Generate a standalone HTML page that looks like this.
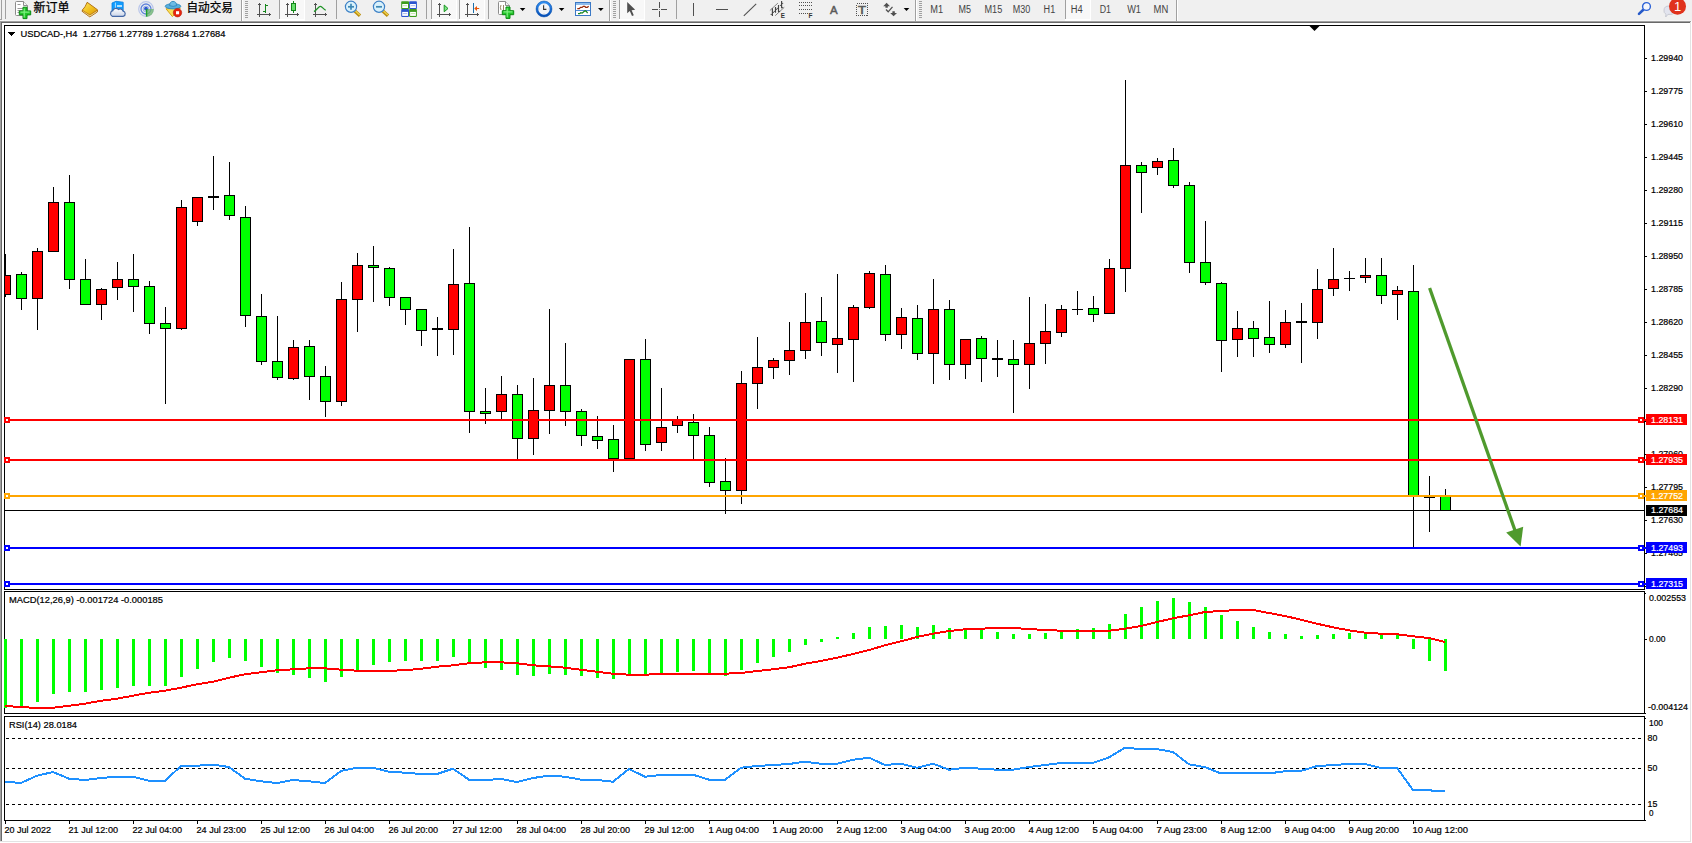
<!DOCTYPE html>
<html lang="zh-CN"><head><meta charset="utf-8"><title>USDCAD-,H4</title>
<style>html,body{margin:0;padding:0;background:#fff}body{width:1692px;height:843px;overflow:hidden;position:relative}svg{display:block;position:absolute;left:0;top:0}text{font-family:"Liberation Sans", "Noto Sans CJK SC", sans-serif;white-space:pre}</style></head><body>
<svg width="1692" height="843" viewBox="0 0 1692 843">
<rect x="0" y="0" width="1692" height="843" fill="#fff"/>
<g shape-rendering="crispEdges">
<rect x="0" y="0" width="1692" height="21" fill="#f0f0f0"/>
<rect x="0" y="20" width="1691" height="1" fill="#f6f6f6"/>
<rect x="0" y="21" width="1691" height="1" fill="#a0a0a0"/>
<rect x="0" y="22" width="1690" height="1" fill="#696969"/>
<rect x="0" y="21" width="1" height="821" fill="#a0a0a0"/>
<rect x="1" y="22" width="1" height="819" fill="#696969"/>
<rect x="1690" y="22" width="1" height="820" fill="#e3e3e3"/>
<rect x="0" y="841" width="1691" height="1" fill="#e3e3e3"/>
</g>
<g shape-rendering="crispEdges">
<rect x="1" y="0" width="1" height="20" fill="#a0a0a0"/><rect x="0" y="19" width="2" height="1" fill="#a0a0a0"/>
<rect x="5" y="0" width="1" height="19" fill="#a0a0a0"/>
<rect x="241" y="0" width="1" height="21" fill="#a0a0a0"/><rect x="242" y="0" width="1" height="21" fill="#fff"/>
<rect x="609" y="0" width="1" height="21" fill="#a0a0a0"/><rect x="610" y="0" width="1" height="21" fill="#fff"/>
<rect x="915" y="0" width="1" height="21" fill="#a0a0a0"/><rect x="916" y="0" width="1" height="21" fill="#fff"/>
<rect x="1176" y="0" width="1" height="21" fill="#a0a0a0"/><rect x="1177" y="0" width="1" height="21" fill="#fff"/>
<rect x="245" y="1" width="3" height="1" fill="#a0a0a0"/>
<rect x="245" y="3" width="3" height="1" fill="#a0a0a0"/>
<rect x="245" y="5" width="3" height="1" fill="#a0a0a0"/>
<rect x="245" y="7" width="3" height="1" fill="#a0a0a0"/>
<rect x="245" y="9" width="3" height="1" fill="#a0a0a0"/>
<rect x="245" y="11" width="3" height="1" fill="#a0a0a0"/>
<rect x="245" y="13" width="3" height="1" fill="#a0a0a0"/>
<rect x="245" y="15" width="3" height="1" fill="#a0a0a0"/>
<rect x="245" y="17" width="3" height="1" fill="#a0a0a0"/>
<rect x="613" y="1" width="3" height="1" fill="#a0a0a0"/>
<rect x="613" y="3" width="3" height="1" fill="#a0a0a0"/>
<rect x="613" y="5" width="3" height="1" fill="#a0a0a0"/>
<rect x="613" y="7" width="3" height="1" fill="#a0a0a0"/>
<rect x="613" y="9" width="3" height="1" fill="#a0a0a0"/>
<rect x="613" y="11" width="3" height="1" fill="#a0a0a0"/>
<rect x="613" y="13" width="3" height="1" fill="#a0a0a0"/>
<rect x="613" y="15" width="3" height="1" fill="#a0a0a0"/>
<rect x="613" y="17" width="3" height="1" fill="#a0a0a0"/>
<rect x="919" y="1" width="3" height="1" fill="#a0a0a0"/>
<rect x="919" y="3" width="3" height="1" fill="#a0a0a0"/>
<rect x="919" y="5" width="3" height="1" fill="#a0a0a0"/>
<rect x="919" y="7" width="3" height="1" fill="#a0a0a0"/>
<rect x="919" y="9" width="3" height="1" fill="#a0a0a0"/>
<rect x="919" y="11" width="3" height="1" fill="#a0a0a0"/>
<rect x="919" y="13" width="3" height="1" fill="#a0a0a0"/>
<rect x="919" y="15" width="3" height="1" fill="#a0a0a0"/>
<rect x="919" y="17" width="3" height="1" fill="#a0a0a0"/>
<rect x="279" y="0" width="1" height="19" fill="#a0a0a0"/>
<rect x="336" y="0" width="1" height="19" fill="#a0a0a0"/>
<rect x="426" y="0" width="1" height="19" fill="#a0a0a0"/>
<rect x="431" y="0" width="1" height="19" fill="#a0a0a0"/>
<rect x="459" y="0" width="1" height="19" fill="#a0a0a0"/>
<rect x="488" y="0" width="1" height="19" fill="#a0a0a0"/>
<rect x="619" y="0" width="1" height="19" fill="#a0a0a0"/>
<rect x="676" y="0" width="1" height="19" fill="#a0a0a0"/>
<rect x="1065" y="0" width="1" height="19" fill="#a0a0a0"/>
<rect x="280" y="0" width="24" height="19" fill="#f8f8f8"/><rect x="304" y="0" width="1" height="21" fill="#fff"/><rect x="279" y="19" width="26" height="2" fill="#fff"/>
<rect x="432" y="0" width="24" height="19" fill="#f8f8f8"/><rect x="456" y="0" width="1" height="21" fill="#fff"/><rect x="431" y="19" width="26" height="2" fill="#fff"/>
<rect x="460" y="0" width="24" height="19" fill="#f8f8f8"/><rect x="484" y="0" width="1" height="21" fill="#fff"/><rect x="459" y="19" width="26" height="2" fill="#fff"/>
<rect x="620" y="0" width="24" height="19" fill="#f8f8f8"/><rect x="644" y="0" width="1" height="21" fill="#fff"/><rect x="619" y="19" width="26" height="2" fill="#fff"/>
<rect x="1066" y="0" width="24" height="19" fill="#f8f8f8"/><rect x="1090" y="0" width="1" height="21" fill="#fff"/><rect x="1065" y="19" width="26" height="2" fill="#fff"/>
</g>
<path d="M15.5,2.5 q0,-1 1,-1 h7 l4,4 v9 q0,1 -1,1 h-10 q-1,0 -1,-1 z" fill="#fff" stroke="#8c8c8c" stroke-width="1"/>
<path d="M23.5,1.5 v4 h4" fill="#f4f4f4" stroke="#8c8c8c" stroke-width="1"/>
<path d="M17.5,4.5 h3 M17.5,8.5 h6 M17.5,10.5 h5 M17.5,12.5 h3" stroke="#9a9a9a" stroke-width="1" fill="none"/>
<path d="M23,7.2 h4 v3.7 h3.7 v4 h-3.7 v3.7 h-4 v-3.7 h-3.7 v-4 h3.7 z" fill="#22c62a" stroke="#0b8a12" stroke-width="1"/>
<path d="M24.2,8.4 v9.0 M20.5,12.1 h9.0" stroke="#7df07f" stroke-width="1.2" fill="none"/>
<text x="33.5" y="12.4" font-size="12" fill="#000" stroke="#000" stroke-width="0.25">新订单</text>
<defs><linearGradient id="gb" x1="0" y1="0" x2="1" y2="1"><stop offset="0" stop-color="#fbe25e"/><stop offset="0.55" stop-color="#f0bf1c"/><stop offset="1" stop-color="#d9960f"/></linearGradient><linearGradient id="gp" x1="0" y1="0" x2="0" y2="1"><stop offset="0" stop-color="#7de87f"/><stop offset="1" stop-color="#12a51c"/></linearGradient><linearGradient id="gc" x1="0" y1="0" x2="0" y2="1"><stop offset="0" stop-color="#ffffff"/><stop offset="1" stop-color="#c9d4e8"/></linearGradient><linearGradient id="gk" x1="0" y1="0" x2="0" y2="1"><stop offset="0" stop-color="#2f8df0"/><stop offset="1" stop-color="#0650b8"/></linearGradient></defs>
<path d="M87.2,2.3 L97.5,9.8 L97.3,12 L89.8,16.9 L82.1,11.3 L82.4,10 Q85.6,6.8 87.2,2.3 Z" fill="#c4830f" stroke="#a9690c" stroke-width="0.9" stroke-linejoin="round"/>
<path d="M83,10.9 L89.8,15.6 L97,10.9 L97,11.7 L89.8,16.4 L83,11.6 Z" fill="#f0e0a8"/>
<path d="M87.4,2.9 L96.9,9.8 L89.8,14.5 L82.8,9.9 Q85.8,6.8 87.4,2.9 Z" fill="url(#gb)"/>
<path d="M112,3 L116,1.3 L123.2,2.2 V11 H112 Z" fill="#119dff" stroke="#0a7fe0" stroke-width="0.8"/>
<path d="M115.4,2.6 V10" stroke="#bfe6ff" stroke-width="0.9"/>
<rect x="117" y="5.2" width="5" height="1.6" fill="#d8f0ff"/>
<path d="M112.2,16.3 a3,3 0 0 1 0.6,-5.6 a3.2,3.2 0 0 1 5.6,-1.2 a3,3 0 0 1 4.6,1.6 a2.7,2.7 0 0 1 0.4,5.2 z" fill="url(#gc)" stroke="#4468a6" stroke-width="1.2"/>
<circle cx="146" cy="9" r="7.3" fill="none" stroke="#b9c6ea" stroke-width="1.2"/>
<circle cx="146" cy="9" r="5" fill="none" stroke="#5f83dc" stroke-width="1.3"/>
<circle cx="146" cy="9" r="2.9" fill="none" stroke="#98b0e8" stroke-width="1"/>
<path d="M146.5,9 L153.8,9 A7.6,7.6 0 0 1 146.5,16.8 Z" fill="#6db56b" opacity="0.75"/>
<circle cx="146" cy="8.7" r="1.9" fill="#2a58d0"/>
<path d="M146.6,9 V16.6" stroke="#1ea12a" stroke-width="1.4"/>
<path d="M166,8.8 L180.4,8 L172.4,16.6 Z" fill="#f8e05a" stroke="#d8a418" stroke-width="1" stroke-linejoin="round"/>
<ellipse cx="173" cy="6.3" rx="7.8" ry="2.6" fill="#56aedd" stroke="#2f88bb" stroke-width="0.9"/>
<path d="M169.6,5.6 q0.2,-4.2 3.4,-4.2 q3.4,0 3.6,4.2 q-3.5,1.6 -7,0 z" fill="#6dbbe4" stroke="#2f88bb" stroke-width="0.9"/>
<circle cx="177.5" cy="12.7" r="4.2" fill="#e6250e" stroke="#b81c0a" stroke-width="0.6"/>
<rect x="176" y="11.2" width="3.1" height="3.1" fill="#fff"/>
<text x="186.5" y="12.4" font-size="12" fill="#000" stroke="#000" stroke-width="0.25" textLength="46.5" lengthAdjust="spacingAndGlyphs">自动交易</text>
<g shape-rendering="crispEdges" fill="#505050"><rect x="259" y="3" width="1" height="14"/><rect x="258" y="4" width="3" height="1"/><rect x="257" y="14" width="14" height="1"/><rect x="269" y="13" width="1" height="3"/></g>
<g shape-rendering="crispEdges" fill="#14861a"><rect x="265" y="4" width="1" height="9"/><rect x="266" y="5" width="2" height="1"/><rect x="263" y="11" width="2" height="1"/></g>
<g shape-rendering="crispEdges" fill="#505050"><rect x="287" y="3" width="1" height="14"/><rect x="286" y="4" width="3" height="1"/><rect x="285" y="14" width="14" height="1"/><rect x="297" y="13" width="1" height="3"/></g>
<g shape-rendering="crispEdges"><rect x="293" y="1" width="1" height="12" fill="#14861a"/><rect x="291" y="3" width="5" height="8" fill="#14861a"/><rect x="292" y="4" width="3" height="6" fill="#66e06b"/></g>
<g shape-rendering="crispEdges" fill="#505050"><rect x="315" y="3" width="1" height="14"/><rect x="314" y="4" width="3" height="1"/><rect x="313" y="14" width="14" height="1"/><rect x="325" y="13" width="1" height="3"/></g>
<path d="M314,11.6 C317,10 318.5,6.3 320.4,6.3 C322.3,6.3 323.5,9.6 325.8,10.3" stroke="#1e9426" stroke-width="1.2" fill="none"/>
<path d="M354.8,10.899999999999999 L360,15.7" stroke="#b98c10" stroke-width="3.4" stroke-linecap="butt"/>
<path d="M355.2,10.7 L359.8,15.0" stroke="#efd24a" stroke-width="1.4"/>
<circle cx="351" cy="6.8" r="5.6" fill="#d9f1fb" stroke="#3c80c6" stroke-width="1.2"/>
<path d="M348,6.8 h6" stroke="#3f88b4" stroke-width="1.7"/>
<path d="M351,3.8 v6" stroke="#3f88b4" stroke-width="1.7"/>
<path d="M382.8,10.899999999999999 L388,15.7" stroke="#b98c10" stroke-width="3.4" stroke-linecap="butt"/>
<path d="M383.2,10.7 L387.8,15.0" stroke="#efd24a" stroke-width="1.4"/>
<circle cx="379" cy="6.8" r="5.6" fill="#d9f1fb" stroke="#3c80c6" stroke-width="1.2"/>
<path d="M376,6.8 h6" stroke="#3f88b4" stroke-width="1.7"/>
<rect x="401.2" y="1.2" width="7.8" height="7.8" rx="0.8" fill="#3c9c1c"/>
<rect x="402.2" y="4.0" width="5.8" height="4" fill="#fff"/>
<rect x="403.0" y="5.2" width="4.2" height="1" fill="#bfe6a8"/>
<rect x="409.1" y="1.2" width="7.8" height="7.8" rx="0.8" fill="#2b55cf"/>
<rect x="410.1" y="4.0" width="5.8" height="4" fill="#fff"/>
<rect x="410.90000000000003" y="5.2" width="4.2" height="1" fill="#a9bdf0"/>
<rect x="401.2" y="9.1" width="7.8" height="7.8" rx="0.8" fill="#2b55cf"/>
<rect x="402.2" y="11.899999999999999" width="5.8" height="4" fill="#fff"/>
<rect x="403.0" y="13.1" width="4.2" height="1" fill="#a9bdf0"/>
<rect x="409.1" y="9.1" width="7.8" height="7.8" rx="0.8" fill="#3c9c1c"/>
<rect x="410.1" y="11.899999999999999" width="5.8" height="4" fill="#fff"/>
<rect x="410.90000000000003" y="13.1" width="4.2" height="1" fill="#bfe6a8"/>
<g shape-rendering="crispEdges" fill="#505050"><rect x="439" y="3" width="1" height="14"/><rect x="438" y="4" width="3" height="1"/><rect x="437" y="14" width="14" height="1"/><rect x="449" y="13" width="1" height="3"/></g>
<path d="M444.2,5 V11.8 L448,8.5 Z" fill="#7fe487" stroke="#18961f" stroke-width="1" stroke-linejoin="round"/>
<g shape-rendering="crispEdges" fill="#505050"><rect x="467" y="3" width="1" height="14"/><rect x="466" y="4" width="3" height="1"/><rect x="465" y="14" width="14" height="1"/><rect x="477" y="13" width="1" height="3"/></g>
<g shape-rendering="crispEdges"><rect x="473" y="3" width="1" height="10" fill="#1b6faa"/></g>
<path d="M474.2,8.5 L477,6 V7.9 H479.2 V9.1 H477 V11 Z" fill="#e8560a"/>
<path d="M498.5,2.5 q0,-1 1,-1 h6 l4,4 v8 q0,1 -1,1 h-9 q-1,0 -1,-1 z" fill="#fff" stroke="#8c8c8c" stroke-width="1"/>
<path d="M505.5,1.5 v4 h4" fill="#f4f4f4" stroke="#8c8c8c" stroke-width="1"/>
<path d="M501,5 q-1.2,2.5 0,5 M503.5,5 v6" stroke="#8a7a55" stroke-width="0.9" fill="none"/>
<path d="M506,6.999999999999999 h4 v3.7 h3.7 v4 h-3.7 v3.7 h-4 v-3.7 h-3.7 v-4 h3.7 z" fill="#22c62a" stroke="#0b8a12" stroke-width="1"/>
<path d="M507.2,8.2 v9.0 M503.5,11.899999999999999 h9.0" stroke="#7df07f" stroke-width="1.2" fill="none"/>
<path d="M519.8,8 h5.6 l-2.8,3.1 z" fill="#000"/>
<circle cx="544" cy="9" r="6.9" fill="#f3f5f8" stroke="url(#gk)" stroke-width="2.3"/>
<circle cx="544" cy="9" r="8" fill="none" stroke="#0a4fa8" stroke-width="0.5"/>
<path d="M543.6,5.2 V9.4 H546.4" stroke="#333" stroke-width="1.1" fill="none"/>
<path d="M544,3.6 v0.8 M544,13.6 v0.8 M538.6,9 h0.8 M548.6,9 h0.8" stroke="#8a94a8" stroke-width="0.8"/>
<path d="M558.8,8 h5.6 l-2.8,3.1 z" fill="#000"/>
<g shape-rendering="crispEdges"><rect x="575" y="2" width="16" height="14" fill="#3b79c6"/><rect x="576" y="3" width="14" height="12" fill="#fff"/><rect x="576" y="3" width="14" height="2" fill="#8fbcec"/><rect x="576" y="10" width="14" height="1" fill="#4f8cd6"/></g>
<path d="M577.3,8.6 h2 l1.2,-1.2 h1.6 l1.2,-1.1 h1.4 l1,1 h1.6 l1.4,-1.1" stroke="#962808" stroke-width="1.25" fill="none"/>
<path d="M578,13.7 h1.6 l1.2,-1 l1.3,0.4 l1.6,-1.4 l1.5,-0.9 l1,0.4 l1.4,2" stroke="#16851d" stroke-width="1.25" fill="none"/>
<path d="M598,8 h5.6 l-2.8,3.1 z" fill="#000"/>
<path d="M627.2,2 V13.2 L629.8,10.9 L632,16.1 L633.8,15.3 L631.6,10.2 L635.2,9.7 Z" fill="#505050"/>
<g shape-rendering="crispEdges" fill="#505050"><rect x="659" y="2" width="1" height="6"/><rect x="659" y="11" width="1" height="6"/><rect x="652" y="9" width="6" height="1"/><rect x="661" y="9" width="6" height="1"/><rect x="659" y="9" width="1" height="1" fill="#8a8a8a"/></g>
<g shape-rendering="crispEdges" fill="#505050"><rect x="693" y="3" width="1" height="13"/><rect x="716" y="9" width="12" height="1"/></g>
<path d="M743.8,15.9 L756.2,3.8" stroke="#505050" stroke-width="1.1"/>
<path d="M769.9,10.5 L777.9,3.1 M775.2,15.7 L784.3,7.3" stroke="#6a6a6a" stroke-width="0.8"/>
<path d="M772.4,8.3 V15.9 M775.5,7.1 V12.7 M778.5,5.1 V12.3 M781.6,1.1 V8.3" stroke="#444" stroke-width="1.15"/>
<path d="M770.6,14.4 h1.8 M772.4,12.4 h1.6 M773.8,11.4 h1.7 M775.5,9.4 h1.6 M776.8,8.4 h1.7 M778.5,11.4 h1.6 M779.9,5.4 h1.7 M781.6,3.4 h1.6 M781.6,7.6 h1.6" stroke="#444" stroke-width="0.9"/>
<text x="780.8" y="17.9" font-size="6.8" font-weight="bold" fill="#333" textLength="4.2" lengthAdjust="spacingAndGlyphs">E</text>
<path d="M799,2.5 H812 M799,5.5 H812 M799,9.5 H812 M799,13.5 H808" stroke="#505050" stroke-width="1" stroke-dasharray="1 1" shape-rendering="crispEdges"/>
<text x="808.6" y="17.8" font-size="6.5" font-weight="bold" fill="#333">F</text>
<text x="830" y="13.8" font-size="11.6" fill="#5a5a5a" stroke="#5a5a5a" stroke-width="0.5" textLength="7.6" lengthAdjust="spacingAndGlyphs">A</text>
<rect x="856.5" y="3.5" width="11" height="12" fill="none" stroke="#505050" stroke-width="1" stroke-dasharray="1 1" shape-rendering="crispEdges"/>
<text x="858" y="13.8" font-size="10" fill="#5a5a5a" stroke="#5a5a5a" stroke-width="0.55" textLength="8" lengthAdjust="spacingAndGlyphs">T</text>
<path d="M886.6,2.8 L890,6.2 H887.8 V7.8 H885.4 V6.2 H883.2 Z M893.6,16.3 L890.2,12.9 H892.4 V11.3 H894.8 V12.9 H897 Z" fill="#505050"/>
<path d="M886,9.5 L888.2,11.8 L892.5,6.8" stroke="#505050" stroke-width="1.3" fill="none"/>
<path d="M903.7,8 h5.6 l-2.8,3.1 z" fill="#000"/>
<text x="936.7" y="13" font-size="10" fill="#444" text-anchor="middle" textLength="12.8" lengthAdjust="spacingAndGlyphs">M1</text>
<text x="964.8" y="13" font-size="10" fill="#444" text-anchor="middle" textLength="12.5" lengthAdjust="spacingAndGlyphs">M5</text>
<text x="993.4" y="13" font-size="10" fill="#444" text-anchor="middle" textLength="17.8" lengthAdjust="spacingAndGlyphs">M15</text>
<text x="1021.4" y="13" font-size="10" fill="#444" text-anchor="middle" textLength="17.5" lengthAdjust="spacingAndGlyphs">M30</text>
<text x="1049.4" y="13" font-size="10" fill="#444" text-anchor="middle" textLength="11.6" lengthAdjust="spacingAndGlyphs">H1</text>
<text x="1076.8" y="13" font-size="10" fill="#444" text-anchor="middle" textLength="11.9" lengthAdjust="spacingAndGlyphs">H4</text>
<text x="1105.3" y="13" font-size="10" fill="#444" text-anchor="middle" textLength="11.3" lengthAdjust="spacingAndGlyphs">D1</text>
<text x="1134.1" y="13" font-size="10" fill="#444" text-anchor="middle" textLength="13.8" lengthAdjust="spacingAndGlyphs">W1</text>
<text x="1160.9" y="13" font-size="10" fill="#444" text-anchor="middle" textLength="14.7" lengthAdjust="spacingAndGlyphs">MN</text>
<path d="M1643.3,9.7 L1639,13.9" stroke="#2559c8" stroke-width="2.6" stroke-linecap="round"/>
<circle cx="1646.5" cy="6.5" r="3.9" fill="#f4f6fb" stroke="#2c62d6" stroke-width="1.4"/>
<path d="M1664,10 a5,4.2 0 0 1 5,-4 h1.5 a5,4.2 0 0 1 0,8.4 h-2.6 l-2.2,2.6 l0.2,-2.9 a4.6,4 0 0 1 -1.9,-4.1 z" fill="#e2e4ee" stroke="#c4c6cf" stroke-width="0.9"/>
<circle cx="1677.5" cy="6.3" r="8.5" fill="#e0321c"/>
<text x="1677.6" y="11.2" font-size="13" fill="#fff" text-anchor="middle">1</text>
<g shape-rendering="crispEdges">
<rect x="4" y="25" width="1641" height="1" fill="#000"/>
<rect x="4" y="25" width="1" height="565" fill="#000"/>
<rect x="1644" y="25" width="1" height="565" fill="#000"/>
<rect x="4" y="589" width="1641" height="1" fill="#000"/>
<rect x="4" y="591" width="1641" height="1" fill="#000"/>
<rect x="4" y="591" width="1" height="123" fill="#000"/>
<rect x="1644" y="591" width="1" height="123" fill="#000"/>
<rect x="4" y="713" width="1641" height="1" fill="#000"/>
<rect x="4" y="716" width="1641" height="1" fill="#000"/>
<rect x="4" y="716" width="1" height="105" fill="#000"/>
<rect x="1644" y="716" width="1" height="105" fill="#000"/>
<rect x="4" y="820" width="1642" height="1" fill="#000"/>
<polygon points="1309.5,26 1319.5,26 1314.5,31" fill="#000" shape-rendering="auto"/>
<polygon points="8,32 15,32 11.5,36" fill="#000"/>
<rect x="1645" y="58" width="2" height="1" fill="#000"/>
<rect x="1645" y="91" width="2" height="1" fill="#000"/>
<rect x="1645" y="124" width="2" height="1" fill="#000"/>
<rect x="1645" y="157" width="2" height="1" fill="#000"/>
<rect x="1645" y="190" width="2" height="1" fill="#000"/>
<rect x="1645" y="223" width="2" height="1" fill="#000"/>
<rect x="1645" y="256" width="2" height="1" fill="#000"/>
<rect x="1645" y="289" width="2" height="1" fill="#000"/>
<rect x="1645" y="322" width="2" height="1" fill="#000"/>
<rect x="1645" y="355" width="2" height="1" fill="#000"/>
<rect x="1645" y="388" width="2" height="1" fill="#000"/>
<rect x="1645" y="421" width="2" height="1" fill="#000"/>
<rect x="1645" y="454" width="2" height="1" fill="#000"/>
<rect x="1645" y="487" width="2" height="1" fill="#000"/>
<rect x="1645" y="520" width="2" height="1" fill="#000"/>
<rect x="1645" y="553" width="2" height="1" fill="#000"/>
<rect x="1645" y="586" width="2" height="1" fill="#000"/>
</g>
<text x="1651" y="61.3" font-size="9.6" fill="#000" stroke="#000" stroke-width="0.22" text-anchor="start" textLength="32" lengthAdjust="spacingAndGlyphs">1.29940</text>
<text x="1651" y="94.3" font-size="9.6" fill="#000" stroke="#000" stroke-width="0.22" text-anchor="start" textLength="32" lengthAdjust="spacingAndGlyphs">1.29775</text>
<text x="1651" y="127.3" font-size="9.6" fill="#000" stroke="#000" stroke-width="0.22" text-anchor="start" textLength="32" lengthAdjust="spacingAndGlyphs">1.29610</text>
<text x="1651" y="160.3" font-size="9.6" fill="#000" stroke="#000" stroke-width="0.22" text-anchor="start" textLength="32" lengthAdjust="spacingAndGlyphs">1.29445</text>
<text x="1651" y="193.3" font-size="9.6" fill="#000" stroke="#000" stroke-width="0.22" text-anchor="start" textLength="32" lengthAdjust="spacingAndGlyphs">1.29280</text>
<text x="1651" y="226.3" font-size="9.6" fill="#000" stroke="#000" stroke-width="0.22" text-anchor="start" textLength="32" lengthAdjust="spacingAndGlyphs">1.29115</text>
<text x="1651" y="259.3" font-size="9.6" fill="#000" stroke="#000" stroke-width="0.22" text-anchor="start" textLength="32" lengthAdjust="spacingAndGlyphs">1.28950</text>
<text x="1651" y="292.3" font-size="9.6" fill="#000" stroke="#000" stroke-width="0.22" text-anchor="start" textLength="32" lengthAdjust="spacingAndGlyphs">1.28785</text>
<text x="1651" y="325.3" font-size="9.6" fill="#000" stroke="#000" stroke-width="0.22" text-anchor="start" textLength="32" lengthAdjust="spacingAndGlyphs">1.28620</text>
<text x="1651" y="358.3" font-size="9.6" fill="#000" stroke="#000" stroke-width="0.22" text-anchor="start" textLength="32" lengthAdjust="spacingAndGlyphs">1.28455</text>
<text x="1651" y="391.3" font-size="9.6" fill="#000" stroke="#000" stroke-width="0.22" text-anchor="start" textLength="32" lengthAdjust="spacingAndGlyphs">1.28290</text>
<text x="1651" y="424.3" font-size="9.6" fill="#000" stroke="#000" stroke-width="0.22" text-anchor="start" textLength="32" lengthAdjust="spacingAndGlyphs">1.28125</text>
<text x="1651" y="457.3" font-size="9.6" fill="#000" stroke="#000" stroke-width="0.22" text-anchor="start" textLength="32" lengthAdjust="spacingAndGlyphs">1.27960</text>
<text x="1651" y="490.3" font-size="9.6" fill="#000" stroke="#000" stroke-width="0.22" text-anchor="start" textLength="32" lengthAdjust="spacingAndGlyphs">1.27795</text>
<text x="1651" y="523.3" font-size="9.6" fill="#000" stroke="#000" stroke-width="0.22" text-anchor="start" textLength="32" lengthAdjust="spacingAndGlyphs">1.27630</text>
<text x="1651" y="556.3" font-size="9.6" fill="#000" stroke="#000" stroke-width="0.22" text-anchor="start" textLength="32" lengthAdjust="spacingAndGlyphs">1.27465</text>
<text x="1651" y="589.3" font-size="9.6" fill="#000" stroke="#000" stroke-width="0.22" text-anchor="start" textLength="32" lengthAdjust="spacingAndGlyphs">1.27300</text>
<clipPath id="cc"><rect x="5" y="26" width="1639" height="563"/></clipPath>
<g shape-rendering="crispEdges" clip-path="url(#cc)">
<rect x="5" y="254" width="1" height="43" fill="#000"/>
<rect x="0" y="275" width="11" height="20" fill="#000"/>
<rect x="1" y="276" width="9" height="18" fill="#f00"/>
<rect x="21" y="272" width="1" height="38" fill="#000"/>
<rect x="16" y="274" width="11" height="25" fill="#000"/>
<rect x="17" y="275" width="9" height="23" fill="#0f0"/>
<rect x="37" y="248" width="1" height="82" fill="#000"/>
<rect x="32" y="251" width="11" height="48" fill="#000"/>
<rect x="33" y="252" width="9" height="46" fill="#f00"/>
<rect x="53" y="187" width="1" height="64" fill="#000"/>
<rect x="48" y="202" width="11" height="50" fill="#000"/>
<rect x="49" y="203" width="9" height="48" fill="#f00"/>
<rect x="69" y="175" width="1" height="114" fill="#000"/>
<rect x="64" y="202" width="11" height="78" fill="#000"/>
<rect x="65" y="203" width="9" height="76" fill="#0f0"/>
<rect x="85" y="259" width="1" height="45" fill="#000"/>
<rect x="80" y="279" width="11" height="26" fill="#000"/>
<rect x="81" y="280" width="9" height="24" fill="#0f0"/>
<rect x="101" y="288" width="1" height="32" fill="#000"/>
<rect x="96" y="289" width="11" height="16" fill="#000"/>
<rect x="97" y="290" width="9" height="14" fill="#f00"/>
<rect x="117" y="262" width="1" height="38" fill="#000"/>
<rect x="112" y="279" width="11" height="9" fill="#000"/>
<rect x="113" y="280" width="9" height="7" fill="#f00"/>
<rect x="133" y="254" width="1" height="58" fill="#000"/>
<rect x="128" y="279" width="11" height="8" fill="#000"/>
<rect x="129" y="280" width="9" height="6" fill="#0f0"/>
<rect x="149" y="281" width="1" height="53" fill="#000"/>
<rect x="144" y="286" width="11" height="38" fill="#000"/>
<rect x="145" y="287" width="9" height="36" fill="#0f0"/>
<rect x="165" y="307" width="1" height="97" fill="#000"/>
<rect x="160" y="323" width="11" height="6" fill="#000"/>
<rect x="161" y="324" width="9" height="4" fill="#0f0"/>
<rect x="181" y="200" width="1" height="130" fill="#000"/>
<rect x="176" y="207" width="11" height="122" fill="#000"/>
<rect x="177" y="208" width="9" height="120" fill="#f00"/>
<rect x="197" y="197" width="1" height="29" fill="#000"/>
<rect x="192" y="197" width="11" height="25" fill="#000"/>
<rect x="193" y="198" width="9" height="23" fill="#f00"/>
<rect x="213" y="156" width="1" height="54" fill="#000"/>
<rect x="208" y="196" width="11" height="2" fill="#000"/>
<rect x="229" y="162" width="1" height="58" fill="#000"/>
<rect x="224" y="195" width="11" height="21" fill="#000"/>
<rect x="225" y="196" width="9" height="19" fill="#0f0"/>
<rect x="245" y="206" width="1" height="121" fill="#000"/>
<rect x="240" y="217" width="11" height="99" fill="#000"/>
<rect x="241" y="218" width="9" height="97" fill="#0f0"/>
<rect x="261" y="294" width="1" height="71" fill="#000"/>
<rect x="256" y="316" width="11" height="46" fill="#000"/>
<rect x="257" y="317" width="9" height="44" fill="#0f0"/>
<rect x="277" y="316" width="1" height="64" fill="#000"/>
<rect x="272" y="361" width="11" height="17" fill="#000"/>
<rect x="273" y="362" width="9" height="15" fill="#0f0"/>
<rect x="293" y="340" width="1" height="40" fill="#000"/>
<rect x="288" y="347" width="11" height="32" fill="#000"/>
<rect x="289" y="348" width="9" height="30" fill="#f00"/>
<rect x="309" y="340" width="1" height="60" fill="#000"/>
<rect x="304" y="346" width="11" height="31" fill="#000"/>
<rect x="305" y="347" width="9" height="29" fill="#0f0"/>
<rect x="325" y="366" width="1" height="51" fill="#000"/>
<rect x="320" y="376" width="11" height="26" fill="#000"/>
<rect x="321" y="377" width="9" height="24" fill="#0f0"/>
<rect x="341" y="282" width="1" height="124" fill="#000"/>
<rect x="336" y="299" width="11" height="103" fill="#000"/>
<rect x="337" y="300" width="9" height="101" fill="#f00"/>
<rect x="357" y="253" width="1" height="79" fill="#000"/>
<rect x="352" y="265" width="11" height="35" fill="#000"/>
<rect x="353" y="266" width="9" height="33" fill="#f00"/>
<rect x="373" y="246" width="1" height="56" fill="#000"/>
<rect x="368" y="265" width="11" height="3" fill="#000"/>
<rect x="369" y="266" width="9" height="1" fill="#0f0"/>
<rect x="389" y="267" width="1" height="39" fill="#000"/>
<rect x="384" y="268" width="11" height="30" fill="#000"/>
<rect x="385" y="269" width="9" height="28" fill="#0f0"/>
<rect x="405" y="297" width="1" height="28" fill="#000"/>
<rect x="400" y="297" width="11" height="13" fill="#000"/>
<rect x="401" y="298" width="9" height="11" fill="#0f0"/>
<rect x="421" y="309" width="1" height="37" fill="#000"/>
<rect x="416" y="309" width="11" height="22" fill="#000"/>
<rect x="417" y="310" width="9" height="20" fill="#0f0"/>
<rect x="437" y="317" width="1" height="39" fill="#000"/>
<rect x="432" y="328" width="11" height="2" fill="#000"/>
<rect x="453" y="249" width="1" height="106" fill="#000"/>
<rect x="448" y="284" width="11" height="46" fill="#000"/>
<rect x="449" y="285" width="9" height="44" fill="#f00"/>
<rect x="469" y="227" width="1" height="206" fill="#000"/>
<rect x="464" y="283" width="11" height="129" fill="#000"/>
<rect x="465" y="284" width="9" height="127" fill="#0f0"/>
<rect x="485" y="388" width="1" height="36" fill="#000"/>
<rect x="480" y="411" width="11" height="3" fill="#000"/>
<rect x="481" y="412" width="9" height="1" fill="#0f0"/>
<rect x="501" y="376" width="1" height="43" fill="#000"/>
<rect x="496" y="394" width="11" height="18" fill="#000"/>
<rect x="497" y="395" width="9" height="16" fill="#f00"/>
<rect x="517" y="385" width="1" height="75" fill="#000"/>
<rect x="512" y="394" width="11" height="45" fill="#000"/>
<rect x="513" y="395" width="9" height="43" fill="#0f0"/>
<rect x="533" y="378" width="1" height="77" fill="#000"/>
<rect x="528" y="410" width="11" height="29" fill="#000"/>
<rect x="529" y="411" width="9" height="27" fill="#f00"/>
<rect x="549" y="309" width="1" height="125" fill="#000"/>
<rect x="544" y="385" width="11" height="26" fill="#000"/>
<rect x="545" y="386" width="9" height="24" fill="#f00"/>
<rect x="565" y="343" width="1" height="83" fill="#000"/>
<rect x="560" y="385" width="11" height="27" fill="#000"/>
<rect x="561" y="386" width="9" height="25" fill="#0f0"/>
<rect x="581" y="409" width="1" height="37" fill="#000"/>
<rect x="576" y="411" width="11" height="25" fill="#000"/>
<rect x="577" y="412" width="9" height="23" fill="#0f0"/>
<rect x="597" y="416" width="1" height="33" fill="#000"/>
<rect x="592" y="436" width="11" height="5" fill="#000"/>
<rect x="593" y="437" width="9" height="3" fill="#0f0"/>
<rect x="613" y="425" width="1" height="47" fill="#000"/>
<rect x="608" y="439" width="11" height="20" fill="#000"/>
<rect x="609" y="440" width="9" height="18" fill="#0f0"/>
<rect x="629" y="359" width="1" height="99" fill="#000"/>
<rect x="624" y="359" width="11" height="100" fill="#000"/>
<rect x="625" y="360" width="9" height="98" fill="#f00"/>
<rect x="645" y="339" width="1" height="112" fill="#000"/>
<rect x="640" y="359" width="11" height="86" fill="#000"/>
<rect x="641" y="360" width="9" height="84" fill="#0f0"/>
<rect x="661" y="388" width="1" height="63" fill="#000"/>
<rect x="656" y="427" width="11" height="16" fill="#000"/>
<rect x="657" y="428" width="9" height="14" fill="#f00"/>
<rect x="677" y="416" width="1" height="17" fill="#000"/>
<rect x="672" y="420" width="11" height="6" fill="#000"/>
<rect x="673" y="421" width="9" height="4" fill="#f00"/>
<rect x="693" y="414" width="1" height="45" fill="#000"/>
<rect x="688" y="422" width="11" height="14" fill="#000"/>
<rect x="689" y="423" width="9" height="12" fill="#0f0"/>
<rect x="709" y="427" width="1" height="60" fill="#000"/>
<rect x="704" y="435" width="11" height="48" fill="#000"/>
<rect x="705" y="436" width="9" height="46" fill="#0f0"/>
<rect x="725" y="458" width="1" height="56" fill="#000"/>
<rect x="720" y="481" width="11" height="10" fill="#000"/>
<rect x="721" y="482" width="9" height="8" fill="#0f0"/>
<rect x="741" y="371" width="1" height="133" fill="#000"/>
<rect x="736" y="383" width="11" height="108" fill="#000"/>
<rect x="737" y="384" width="9" height="106" fill="#f00"/>
<rect x="757" y="337" width="1" height="72" fill="#000"/>
<rect x="752" y="367" width="11" height="17" fill="#000"/>
<rect x="753" y="368" width="9" height="15" fill="#f00"/>
<rect x="773" y="358" width="1" height="21" fill="#000"/>
<rect x="768" y="360" width="11" height="8" fill="#000"/>
<rect x="769" y="361" width="9" height="6" fill="#f00"/>
<rect x="789" y="322" width="1" height="53" fill="#000"/>
<rect x="784" y="350" width="11" height="11" fill="#000"/>
<rect x="785" y="351" width="9" height="9" fill="#f00"/>
<rect x="805" y="293" width="1" height="66" fill="#000"/>
<rect x="800" y="322" width="11" height="29" fill="#000"/>
<rect x="801" y="323" width="9" height="27" fill="#f00"/>
<rect x="821" y="297" width="1" height="59" fill="#000"/>
<rect x="816" y="321" width="11" height="22" fill="#000"/>
<rect x="817" y="322" width="9" height="20" fill="#0f0"/>
<rect x="837" y="274" width="1" height="99" fill="#000"/>
<rect x="832" y="338" width="11" height="7" fill="#000"/>
<rect x="833" y="339" width="9" height="5" fill="#f00"/>
<rect x="853" y="305" width="1" height="77" fill="#000"/>
<rect x="848" y="307" width="11" height="33" fill="#000"/>
<rect x="849" y="308" width="9" height="31" fill="#f00"/>
<rect x="869" y="271" width="1" height="38" fill="#000"/>
<rect x="864" y="273" width="11" height="35" fill="#000"/>
<rect x="865" y="274" width="9" height="33" fill="#f00"/>
<rect x="885" y="265" width="1" height="76" fill="#000"/>
<rect x="880" y="274" width="11" height="61" fill="#000"/>
<rect x="881" y="275" width="9" height="59" fill="#0f0"/>
<rect x="901" y="308" width="1" height="41" fill="#000"/>
<rect x="896" y="317" width="11" height="18" fill="#000"/>
<rect x="897" y="318" width="9" height="16" fill="#f00"/>
<rect x="917" y="305" width="1" height="55" fill="#000"/>
<rect x="912" y="318" width="11" height="36" fill="#000"/>
<rect x="913" y="319" width="9" height="34" fill="#0f0"/>
<rect x="933" y="279" width="1" height="105" fill="#000"/>
<rect x="928" y="309" width="11" height="45" fill="#000"/>
<rect x="929" y="310" width="9" height="43" fill="#f00"/>
<rect x="949" y="300" width="1" height="80" fill="#000"/>
<rect x="944" y="309" width="11" height="56" fill="#000"/>
<rect x="945" y="310" width="9" height="54" fill="#0f0"/>
<rect x="965" y="339" width="1" height="40" fill="#000"/>
<rect x="960" y="339" width="11" height="26" fill="#000"/>
<rect x="961" y="340" width="9" height="24" fill="#f00"/>
<rect x="981" y="336" width="1" height="46" fill="#000"/>
<rect x="976" y="338" width="11" height="21" fill="#000"/>
<rect x="977" y="339" width="9" height="19" fill="#0f0"/>
<rect x="997" y="340" width="1" height="37" fill="#000"/>
<rect x="992" y="358" width="11" height="2" fill="#000"/>
<rect x="1013" y="340" width="1" height="73" fill="#000"/>
<rect x="1008" y="359" width="11" height="6" fill="#000"/>
<rect x="1009" y="360" width="9" height="4" fill="#0f0"/>
<rect x="1029" y="297" width="1" height="92" fill="#000"/>
<rect x="1024" y="343" width="11" height="22" fill="#000"/>
<rect x="1025" y="344" width="9" height="20" fill="#f00"/>
<rect x="1045" y="304" width="1" height="60" fill="#000"/>
<rect x="1040" y="331" width="11" height="13" fill="#000"/>
<rect x="1041" y="332" width="9" height="11" fill="#f00"/>
<rect x="1061" y="305" width="1" height="32" fill="#000"/>
<rect x="1056" y="309" width="11" height="24" fill="#000"/>
<rect x="1057" y="310" width="9" height="22" fill="#f00"/>
<rect x="1077" y="291" width="1" height="24" fill="#000"/>
<rect x="1072" y="309" width="11" height="1" fill="#000"/>
<rect x="1093" y="296" width="1" height="26" fill="#000"/>
<rect x="1088" y="308" width="11" height="7" fill="#000"/>
<rect x="1089" y="309" width="9" height="5" fill="#0f0"/>
<rect x="1109" y="259" width="1" height="54" fill="#000"/>
<rect x="1104" y="268" width="11" height="46" fill="#000"/>
<rect x="1105" y="269" width="9" height="44" fill="#f00"/>
<rect x="1125" y="80" width="1" height="212" fill="#000"/>
<rect x="1120" y="165" width="11" height="104" fill="#000"/>
<rect x="1121" y="166" width="9" height="102" fill="#f00"/>
<rect x="1141" y="162" width="1" height="51" fill="#000"/>
<rect x="1136" y="165" width="11" height="8" fill="#000"/>
<rect x="1137" y="166" width="9" height="6" fill="#0f0"/>
<rect x="1157" y="158" width="1" height="17" fill="#000"/>
<rect x="1152" y="161" width="11" height="7" fill="#000"/>
<rect x="1153" y="162" width="9" height="5" fill="#f00"/>
<rect x="1173" y="148" width="1" height="40" fill="#000"/>
<rect x="1168" y="160" width="11" height="26" fill="#000"/>
<rect x="1169" y="161" width="9" height="24" fill="#0f0"/>
<rect x="1189" y="182" width="1" height="91" fill="#000"/>
<rect x="1184" y="185" width="11" height="78" fill="#000"/>
<rect x="1185" y="186" width="9" height="76" fill="#0f0"/>
<rect x="1205" y="221" width="1" height="64" fill="#000"/>
<rect x="1200" y="262" width="11" height="21" fill="#000"/>
<rect x="1201" y="263" width="9" height="19" fill="#0f0"/>
<rect x="1221" y="282" width="1" height="90" fill="#000"/>
<rect x="1216" y="283" width="11" height="58" fill="#000"/>
<rect x="1217" y="284" width="9" height="56" fill="#0f0"/>
<rect x="1237" y="311" width="1" height="46" fill="#000"/>
<rect x="1232" y="328" width="11" height="12" fill="#000"/>
<rect x="1233" y="329" width="9" height="10" fill="#f00"/>
<rect x="1253" y="321" width="1" height="36" fill="#000"/>
<rect x="1248" y="328" width="11" height="11" fill="#000"/>
<rect x="1249" y="329" width="9" height="9" fill="#0f0"/>
<rect x="1269" y="301" width="1" height="52" fill="#000"/>
<rect x="1264" y="337" width="11" height="8" fill="#000"/>
<rect x="1265" y="338" width="9" height="6" fill="#0f0"/>
<rect x="1285" y="310" width="1" height="38" fill="#000"/>
<rect x="1280" y="322" width="11" height="23" fill="#000"/>
<rect x="1281" y="323" width="9" height="21" fill="#f00"/>
<rect x="1301" y="303" width="1" height="60" fill="#000"/>
<rect x="1296" y="321" width="11" height="2" fill="#000"/>
<rect x="1317" y="269" width="1" height="70" fill="#000"/>
<rect x="1312" y="289" width="11" height="34" fill="#000"/>
<rect x="1313" y="290" width="9" height="32" fill="#f00"/>
<rect x="1333" y="248" width="1" height="48" fill="#000"/>
<rect x="1328" y="279" width="11" height="10" fill="#000"/>
<rect x="1329" y="280" width="9" height="8" fill="#f00"/>
<rect x="1349" y="271" width="1" height="20" fill="#000"/>
<rect x="1344" y="278" width="11" height="1" fill="#000"/>
<rect x="1365" y="258" width="1" height="25" fill="#000"/>
<rect x="1360" y="275" width="11" height="3" fill="#000"/>
<rect x="1361" y="276" width="9" height="1" fill="#f00"/>
<rect x="1381" y="258" width="1" height="46" fill="#000"/>
<rect x="1376" y="275" width="11" height="21" fill="#000"/>
<rect x="1377" y="276" width="9" height="19" fill="#0f0"/>
<rect x="1397" y="286" width="1" height="34" fill="#000"/>
<rect x="1392" y="290" width="11" height="5" fill="#000"/>
<rect x="1393" y="291" width="9" height="3" fill="#f00"/>
<rect x="1413" y="265" width="1" height="283" fill="#000"/>
<rect x="1408" y="291" width="11" height="205" fill="#000"/>
<rect x="1409" y="292" width="9" height="203" fill="#0f0"/>
<rect x="1429" y="476" width="1" height="56" fill="#000"/>
<rect x="1424" y="497" width="11" height="1" fill="#000"/>
<rect x="1445" y="489" width="1" height="21" fill="#000"/>
<rect x="1440" y="496" width="11" height="15" fill="#000"/>
<rect x="1441" y="497" width="9" height="13" fill="#0f0"/>
</g>
<g shape-rendering="crispEdges">
<rect x="5" y="510" width="1640" height="1" fill="#000"/>
<rect x="1646" y="505" width="41" height="11" fill="#000"/>
<rect x="4" y="419" width="1642" height="2" fill="#f00"/>
<rect x="4" y="417" width="6" height="6" fill="#f00"/>
<rect x="6" y="419" width="2" height="2" fill="#fff"/>
<rect x="1638" y="417" width="6" height="6" fill="#f00"/>
<rect x="1640" y="419" width="2" height="2" fill="#fff"/>
<rect x="1646" y="414" width="41" height="11" fill="#f00"/>
<rect x="4" y="459" width="1642" height="2" fill="#f00"/>
<rect x="4" y="457" width="6" height="6" fill="#f00"/>
<rect x="6" y="459" width="2" height="2" fill="#fff"/>
<rect x="1638" y="457" width="6" height="6" fill="#f00"/>
<rect x="1640" y="459" width="2" height="2" fill="#fff"/>
<rect x="1646" y="454" width="41" height="11" fill="#f00"/>
<rect x="4" y="495" width="1642" height="2" fill="#ffa500"/>
<rect x="4" y="493" width="6" height="6" fill="#ffa500"/>
<rect x="6" y="495" width="2" height="2" fill="#fff"/>
<rect x="1638" y="493" width="6" height="6" fill="#ffa500"/>
<rect x="1640" y="495" width="2" height="2" fill="#fff"/>
<rect x="1646" y="490" width="41" height="11" fill="#ffa500"/>
<rect x="4" y="547" width="1642" height="2" fill="#00f"/>
<rect x="4" y="545" width="6" height="6" fill="#00f"/>
<rect x="6" y="547" width="2" height="2" fill="#fff"/>
<rect x="1638" y="545" width="6" height="6" fill="#00f"/>
<rect x="1640" y="547" width="2" height="2" fill="#fff"/>
<rect x="1646" y="542" width="41" height="11" fill="#00f"/>
<rect x="4" y="583" width="1642" height="2" fill="#00f"/>
<rect x="4" y="581" width="6" height="6" fill="#00f"/>
<rect x="6" y="583" width="2" height="2" fill="#fff"/>
<rect x="1638" y="581" width="6" height="6" fill="#00f"/>
<rect x="1640" y="583" width="2" height="2" fill="#fff"/>
<rect x="1646" y="578" width="41" height="11" fill="#00f"/>
</g>
<text x="1651" y="513.3" font-size="9.6" fill="#fff" stroke="#fff" stroke-width="0.22" text-anchor="start" textLength="32" lengthAdjust="spacingAndGlyphs">1.27684</text>
<text x="1651" y="423.3" font-size="9.6" fill="#fff" stroke="#fff" stroke-width="0.22" text-anchor="start" textLength="32" lengthAdjust="spacingAndGlyphs">1.28131</text>
<text x="1651" y="463.3" font-size="9.6" fill="#fff" stroke="#fff" stroke-width="0.22" text-anchor="start" textLength="32" lengthAdjust="spacingAndGlyphs">1.27935</text>
<text x="1651" y="499.3" font-size="9.6" fill="#fff" stroke="#fff" stroke-width="0.22" text-anchor="start" textLength="32" lengthAdjust="spacingAndGlyphs">1.27752</text>
<text x="1651" y="551.3" font-size="9.6" fill="#fff" stroke="#fff" stroke-width="0.22" text-anchor="start" textLength="32" lengthAdjust="spacingAndGlyphs">1.27493</text>
<text x="1651" y="587.3" font-size="9.6" fill="#fff" stroke="#fff" stroke-width="0.22" text-anchor="start" textLength="32" lengthAdjust="spacingAndGlyphs">1.27315</text>
<line x1="1429.6" y1="288" x2="1515.2" y2="531" stroke="#4f9a2d" stroke-width="3.3"/>
<polygon points="1506.2,532.6 1523.2,526.8 1520.6,546.5" fill="#4f9a2d"/>
<g shape-rendering="crispEdges">
<rect x="4" y="639" width="3" height="69" fill="#0f0"/>
<rect x="20" y="639" width="3" height="68" fill="#0f0"/>
<rect x="36" y="639" width="3" height="63" fill="#0f0"/>
<rect x="52" y="639" width="3" height="55" fill="#0f0"/>
<rect x="68" y="639" width="3" height="53" fill="#0f0"/>
<rect x="84" y="639" width="3" height="53" fill="#0f0"/>
<rect x="100" y="639" width="3" height="51" fill="#0f0"/>
<rect x="116" y="639" width="3" height="49" fill="#0f0"/>
<rect x="132" y="639" width="3" height="47" fill="#0f0"/>
<rect x="148" y="639" width="3" height="47" fill="#0f0"/>
<rect x="164" y="639" width="3" height="47" fill="#0f0"/>
<rect x="180" y="639" width="3" height="38" fill="#0f0"/>
<rect x="196" y="639" width="3" height="30" fill="#0f0"/>
<rect x="212" y="639" width="3" height="23" fill="#0f0"/>
<rect x="228" y="639" width="3" height="19" fill="#0f0"/>
<rect x="244" y="639" width="3" height="22" fill="#0f0"/>
<rect x="260" y="639" width="3" height="28" fill="#0f0"/>
<rect x="276" y="639" width="3" height="34" fill="#0f0"/>
<rect x="292" y="639" width="3" height="36" fill="#0f0"/>
<rect x="308" y="639" width="3" height="39" fill="#0f0"/>
<rect x="324" y="639" width="3" height="43" fill="#0f0"/>
<rect x="340" y="639" width="3" height="38" fill="#0f0"/>
<rect x="356" y="639" width="3" height="32" fill="#0f0"/>
<rect x="372" y="639" width="3" height="26" fill="#0f0"/>
<rect x="388" y="639" width="3" height="23" fill="#0f0"/>
<rect x="404" y="639" width="3" height="22" fill="#0f0"/>
<rect x="420" y="639" width="3" height="22" fill="#0f0"/>
<rect x="436" y="639" width="3" height="22" fill="#0f0"/>
<rect x="452" y="639" width="3" height="18" fill="#0f0"/>
<rect x="468" y="639" width="3" height="24" fill="#0f0"/>
<rect x="484" y="639" width="3" height="29" fill="#0f0"/>
<rect x="500" y="639" width="3" height="31" fill="#0f0"/>
<rect x="516" y="639" width="3" height="36" fill="#0f0"/>
<rect x="532" y="639" width="3" height="37" fill="#0f0"/>
<rect x="548" y="639" width="3" height="35" fill="#0f0"/>
<rect x="564" y="639" width="3" height="36" fill="#0f0"/>
<rect x="580" y="639" width="3" height="37" fill="#0f0"/>
<rect x="596" y="639" width="3" height="39" fill="#0f0"/>
<rect x="612" y="639" width="3" height="40" fill="#0f0"/>
<rect x="628" y="639" width="3" height="35" fill="#0f0"/>
<rect x="644" y="639" width="3" height="36" fill="#0f0"/>
<rect x="660" y="639" width="3" height="34" fill="#0f0"/>
<rect x="676" y="639" width="3" height="33" fill="#0f0"/>
<rect x="692" y="639" width="3" height="32" fill="#0f0"/>
<rect x="708" y="639" width="3" height="34" fill="#0f0"/>
<rect x="724" y="639" width="3" height="37" fill="#0f0"/>
<rect x="740" y="639" width="3" height="31" fill="#0f0"/>
<rect x="756" y="639" width="3" height="24" fill="#0f0"/>
<rect x="772" y="639" width="3" height="18" fill="#0f0"/>
<rect x="788" y="639" width="3" height="13" fill="#0f0"/>
<rect x="804" y="639" width="3" height="6" fill="#0f0"/>
<rect x="820" y="639" width="3" height="3" fill="#0f0"/>
<rect x="836" y="637" width="3" height="2" fill="#0f0"/>
<rect x="852" y="633" width="3" height="6" fill="#0f0"/>
<rect x="868" y="627" width="3" height="12" fill="#0f0"/>
<rect x="884" y="626" width="3" height="13" fill="#0f0"/>
<rect x="900" y="625" width="3" height="14" fill="#0f0"/>
<rect x="916" y="627" width="3" height="12" fill="#0f0"/>
<rect x="932" y="625" width="3" height="14" fill="#0f0"/>
<rect x="948" y="628" width="3" height="11" fill="#0f0"/>
<rect x="964" y="630" width="3" height="9" fill="#0f0"/>
<rect x="980" y="629" width="3" height="10" fill="#0f0"/>
<rect x="996" y="632" width="3" height="7" fill="#0f0"/>
<rect x="1012" y="634" width="3" height="5" fill="#0f0"/>
<rect x="1028" y="634" width="3" height="5" fill="#0f0"/>
<rect x="1044" y="633" width="3" height="6" fill="#0f0"/>
<rect x="1060" y="631" width="3" height="8" fill="#0f0"/>
<rect x="1076" y="629" width="3" height="10" fill="#0f0"/>
<rect x="1092" y="628" width="3" height="11" fill="#0f0"/>
<rect x="1108" y="624" width="3" height="15" fill="#0f0"/>
<rect x="1124" y="614" width="3" height="25" fill="#0f0"/>
<rect x="1140" y="607" width="3" height="32" fill="#0f0"/>
<rect x="1156" y="601" width="3" height="38" fill="#0f0"/>
<rect x="1172" y="598" width="3" height="41" fill="#0f0"/>
<rect x="1188" y="602" width="3" height="37" fill="#0f0"/>
<rect x="1204" y="607" width="3" height="32" fill="#0f0"/>
<rect x="1220" y="615" width="3" height="24" fill="#0f0"/>
<rect x="1236" y="621" width="3" height="18" fill="#0f0"/>
<rect x="1252" y="627" width="3" height="12" fill="#0f0"/>
<rect x="1268" y="632" width="3" height="7" fill="#0f0"/>
<rect x="1284" y="634" width="3" height="5" fill="#0f0"/>
<rect x="1300" y="636" width="3" height="3" fill="#0f0"/>
<rect x="1316" y="635" width="3" height="4" fill="#0f0"/>
<rect x="1332" y="634" width="3" height="5" fill="#0f0"/>
<rect x="1348" y="633" width="3" height="6" fill="#0f0"/>
<rect x="1364" y="632" width="3" height="7" fill="#0f0"/>
<rect x="1380" y="633" width="3" height="6" fill="#0f0"/>
<rect x="1396" y="634" width="3" height="5" fill="#0f0"/>
<rect x="1412" y="639" width="3" height="10" fill="#0f0"/>
<rect x="1428" y="639" width="3" height="22" fill="#0f0"/>
<rect x="1444" y="639" width="3" height="32" fill="#0f0"/>
</g>
<polyline points="5,705.7 21,707.3 37,707.7 53,707.7 69,705.7 85,703.7 101,700.7 117,698.7 133,695.7 149,692.7 165,690.7 181,687.7 197,684.3 213,681.7 229,677.7 245,674.3 261,672.3 277,670.3 293,669.3 309,668.3 325,668.3 341,669.7 357,670.7 373,670.7 389,670.7 405,670.3 421,668.7 437,666.7 453,665.3 469,663.3 485,662.3 501,662.3 517,663.3 533,665.3 549,666.3 565,667.7 581,669.7 597,671.7 613,673.7 629,674.7 645,674.7 661,674.0 677,674.0 693,674.0 709,674.0 725,673.7 741,673.0 757,671.0 773,669.3 789,667.3 805,663.7 821,661.0 837,657.7 853,654.0 869,650.0 885,645.3 901,641.3 917,637.0 933,633.7 949,631.0 965,629.3 981,628.7 997,628.0 1013,628.0 1029,629.0 1045,630.0 1061,630.7 1077,630.7 1093,630.7 1109,630.7 1125,628.7 1141,626.0 1157,622.0 1173,618.3 1189,615.3 1205,612.0 1221,611.0 1237,610.0 1253,610.0 1269,613.0 1285,616.0 1301,619.7 1317,623.7 1333,627.3 1349,630.3 1365,632.7 1381,633.7 1397,634.3 1413,636.3 1429,638.0 1445,642.0" fill="none" stroke="#f00" stroke-width="2" stroke-linejoin="round" shape-rendering="crispEdges"/>
<g shape-rendering="crispEdges">
<rect x="1645" y="639" width="2" height="1" fill="#000"/>
</g>
<text x="9" y="603.3" font-size="9.6" fill="#000" stroke="#000" stroke-width="0.22" text-anchor="start" textLength="154" lengthAdjust="spacingAndGlyphs">MACD(12,26,9) -0.001724 -0.000185</text>
<text x="1649" y="601.3" font-size="9.6" fill="#000" stroke="#000" stroke-width="0.22" text-anchor="start" textLength="37" lengthAdjust="spacingAndGlyphs">0.002553</text>
<text x="1649" y="642.3" font-size="9.6" fill="#000" stroke="#000" stroke-width="0.22" text-anchor="start" textLength="16.5" lengthAdjust="spacingAndGlyphs">0.00</text>
<text x="1648" y="710.3" font-size="9.6" fill="#000" stroke="#000" stroke-width="0.22" text-anchor="start" textLength="40" lengthAdjust="spacingAndGlyphs">-0.004124</text>
<g shape-rendering="crispEdges">
<line x1="6" y1="738.5" x2="1644" y2="738.5" stroke="#000" stroke-width="1" stroke-dasharray="3 3"/>
<line x1="6" y1="768.5" x2="1644" y2="768.5" stroke="#000" stroke-width="1" stroke-dasharray="3 3"/>
<line x1="6" y1="804.5" x2="1644" y2="804.5" stroke="#000" stroke-width="1" stroke-dasharray="3 3"/>
<rect x="1645" y="718" width="1" height="1" fill="#000"/>
<rect x="1645" y="713" width="1" height="1" fill="#000"/>
<rect x="1645" y="593" width="1" height="1" fill="#000"/>
</g>
<polyline points="5,781.7 21,783.0 37,775.7 53,772.0 69,778.7 85,780.0 101,778.0 117,776.7 133,776.7 149,780.7 165,780.7 181,766.0 197,765.7 213,764.7 229,767.0 245,778.7 261,781.3 277,783.0 293,780.0 309,781.3 325,783.0 341,771.0 357,767.7 373,767.7 389,771.7 405,772.7 421,774.0 437,774.0 453,768.7 469,779.7 485,780.0 501,779.0 517,782.0 533,778.0 549,775.7 565,776.7 581,779.7 597,780.0 613,781.7 629,769.0 645,776.7 661,775.0 677,774.7 693,774.7 709,779.7 725,779.7 741,767.7 757,766.0 773,765.0 789,764.0 805,761.7 821,763.7 837,763.7 853,759.7 869,757.7 885,765.0 901,763.7 917,767.7 933,763.7 949,769.7 965,767.7 981,768.7 997,769.7 1013,769.7 1029,767.0 1045,765.0 1061,763.0 1077,763.0 1093,762.8 1109,757.4 1125,747.7 1141,749.1 1157,749.1 1173,752.0 1189,764.3 1205,767.2 1221,773.4 1237,772.6 1253,773.4 1269,773.4 1285,771.2 1301,770.8 1317,766.1 1333,765.0 1349,764.0 1365,764.0 1381,767.9 1397,767.9 1413,790.0 1429,790.4 1445,791.1" fill="none" stroke="#1e90ff" stroke-width="2" stroke-linejoin="round" shape-rendering="crispEdges"/>
<text x="9" y="728.3" font-size="9.6" fill="#000" stroke="#000" stroke-width="0.22" text-anchor="start" textLength="68" lengthAdjust="spacingAndGlyphs">RSI(14) 28.0184</text>
<text x="1649" y="726.3" font-size="9.6" fill="#000" stroke="#000" stroke-width="0.22" text-anchor="start" textLength="14" lengthAdjust="spacingAndGlyphs">100</text>
<text x="1647.5" y="741.3" font-size="9.6" fill="#000" stroke="#000" stroke-width="0.22" text-anchor="start" textLength="9.8" lengthAdjust="spacingAndGlyphs">80</text>
<text x="1647.5" y="771.3" font-size="9.6" fill="#000" stroke="#000" stroke-width="0.22" text-anchor="start" textLength="9.8" lengthAdjust="spacingAndGlyphs">50</text>
<text x="1647.5" y="807.3" font-size="9.6" fill="#000" stroke="#000" stroke-width="0.22" text-anchor="start" textLength="9.8" lengthAdjust="spacingAndGlyphs">15</text>
<text x="1649" y="816.3" font-size="9.6" fill="#000" stroke="#000" stroke-width="0.22" text-anchor="start" textLength="4.5" lengthAdjust="spacingAndGlyphs">0</text>
<g shape-rendering="crispEdges">
<rect x="5" y="821" width="1" height="3" fill="#000"/>
<rect x="69" y="821" width="1" height="3" fill="#000"/>
<rect x="133" y="821" width="1" height="3" fill="#000"/>
<rect x="197" y="821" width="1" height="3" fill="#000"/>
<rect x="261" y="821" width="1" height="3" fill="#000"/>
<rect x="325" y="821" width="1" height="3" fill="#000"/>
<rect x="389" y="821" width="1" height="3" fill="#000"/>
<rect x="453" y="821" width="1" height="3" fill="#000"/>
<rect x="517" y="821" width="1" height="3" fill="#000"/>
<rect x="581" y="821" width="1" height="3" fill="#000"/>
<rect x="645" y="821" width="1" height="3" fill="#000"/>
<rect x="709" y="821" width="1" height="3" fill="#000"/>
<rect x="773" y="821" width="1" height="3" fill="#000"/>
<rect x="837" y="821" width="1" height="3" fill="#000"/>
<rect x="901" y="821" width="1" height="3" fill="#000"/>
<rect x="965" y="821" width="1" height="3" fill="#000"/>
<rect x="1029" y="821" width="1" height="3" fill="#000"/>
<rect x="1093" y="821" width="1" height="3" fill="#000"/>
<rect x="1157" y="821" width="1" height="3" fill="#000"/>
<rect x="1221" y="821" width="1" height="3" fill="#000"/>
<rect x="1285" y="821" width="1" height="3" fill="#000"/>
<rect x="1349" y="821" width="1" height="3" fill="#000"/>
<rect x="1413" y="821" width="1" height="3" fill="#000"/>
</g>
<text x="4.5" y="832.8" font-size="9.6" fill="#000" stroke="#000" stroke-width="0.22" text-anchor="start" textLength="46.5" lengthAdjust="spacingAndGlyphs">20 Jul 2022</text>
<text x="68.5" y="832.8" font-size="9.6" fill="#000" stroke="#000" stroke-width="0.22" text-anchor="start" textLength="49.5" lengthAdjust="spacingAndGlyphs">21 Jul 12:00</text>
<text x="132.5" y="832.8" font-size="9.6" fill="#000" stroke="#000" stroke-width="0.22" text-anchor="start" textLength="49.5" lengthAdjust="spacingAndGlyphs">22 Jul 04:00</text>
<text x="196.5" y="832.8" font-size="9.6" fill="#000" stroke="#000" stroke-width="0.22" text-anchor="start" textLength="49.5" lengthAdjust="spacingAndGlyphs">24 Jul 23:00</text>
<text x="260.5" y="832.8" font-size="9.6" fill="#000" stroke="#000" stroke-width="0.22" text-anchor="start" textLength="49.5" lengthAdjust="spacingAndGlyphs">25 Jul 12:00</text>
<text x="324.5" y="832.8" font-size="9.6" fill="#000" stroke="#000" stroke-width="0.22" text-anchor="start" textLength="49.5" lengthAdjust="spacingAndGlyphs">26 Jul 04:00</text>
<text x="388.5" y="832.8" font-size="9.6" fill="#000" stroke="#000" stroke-width="0.22" text-anchor="start" textLength="49.5" lengthAdjust="spacingAndGlyphs">26 Jul 20:00</text>
<text x="452.5" y="832.8" font-size="9.6" fill="#000" stroke="#000" stroke-width="0.22" text-anchor="start" textLength="49.5" lengthAdjust="spacingAndGlyphs">27 Jul 12:00</text>
<text x="516.5" y="832.8" font-size="9.6" fill="#000" stroke="#000" stroke-width="0.22" text-anchor="start" textLength="49.5" lengthAdjust="spacingAndGlyphs">28 Jul 04:00</text>
<text x="580.5" y="832.8" font-size="9.6" fill="#000" stroke="#000" stroke-width="0.22" text-anchor="start" textLength="49.5" lengthAdjust="spacingAndGlyphs">28 Jul 20:00</text>
<text x="644.5" y="832.8" font-size="9.6" fill="#000" stroke="#000" stroke-width="0.22" text-anchor="start" textLength="49.5" lengthAdjust="spacingAndGlyphs">29 Jul 12:00</text>
<text x="708.5" y="832.8" font-size="9.6" fill="#000" stroke="#000" stroke-width="0.22" text-anchor="start" textLength="50.5" lengthAdjust="spacingAndGlyphs">1 Aug 04:00</text>
<text x="772.5" y="832.8" font-size="9.6" fill="#000" stroke="#000" stroke-width="0.22" text-anchor="start" textLength="50.5" lengthAdjust="spacingAndGlyphs">1 Aug 20:00</text>
<text x="836.5" y="832.8" font-size="9.6" fill="#000" stroke="#000" stroke-width="0.22" text-anchor="start" textLength="50.5" lengthAdjust="spacingAndGlyphs">2 Aug 12:00</text>
<text x="900.5" y="832.8" font-size="9.6" fill="#000" stroke="#000" stroke-width="0.22" text-anchor="start" textLength="50.5" lengthAdjust="spacingAndGlyphs">3 Aug 04:00</text>
<text x="964.5" y="832.8" font-size="9.6" fill="#000" stroke="#000" stroke-width="0.22" text-anchor="start" textLength="50.5" lengthAdjust="spacingAndGlyphs">3 Aug 20:00</text>
<text x="1028.5" y="832.8" font-size="9.6" fill="#000" stroke="#000" stroke-width="0.22" text-anchor="start" textLength="50.5" lengthAdjust="spacingAndGlyphs">4 Aug 12:00</text>
<text x="1092.5" y="832.8" font-size="9.6" fill="#000" stroke="#000" stroke-width="0.22" text-anchor="start" textLength="50.5" lengthAdjust="spacingAndGlyphs">5 Aug 04:00</text>
<text x="1156.5" y="832.8" font-size="9.6" fill="#000" stroke="#000" stroke-width="0.22" text-anchor="start" textLength="50.5" lengthAdjust="spacingAndGlyphs">7 Aug 23:00</text>
<text x="1220.5" y="832.8" font-size="9.6" fill="#000" stroke="#000" stroke-width="0.22" text-anchor="start" textLength="50.5" lengthAdjust="spacingAndGlyphs">8 Aug 12:00</text>
<text x="1284.5" y="832.8" font-size="9.6" fill="#000" stroke="#000" stroke-width="0.22" text-anchor="start" textLength="50.5" lengthAdjust="spacingAndGlyphs">9 Aug 04:00</text>
<text x="1348.5" y="832.8" font-size="9.6" fill="#000" stroke="#000" stroke-width="0.22" text-anchor="start" textLength="50.5" lengthAdjust="spacingAndGlyphs">9 Aug 20:00</text>
<text x="1412.5" y="832.8" font-size="9.6" fill="#000" stroke="#000" stroke-width="0.22" text-anchor="start" textLength="55.5" lengthAdjust="spacingAndGlyphs">10 Aug 12:00</text>
<text x="20.5" y="36.8" font-size="9.6" fill="#000" stroke="#000" stroke-width="0.22" text-anchor="start" textLength="205" lengthAdjust="spacingAndGlyphs">USDCAD-,H4  1.27756 1.27789 1.27684 1.27684</text>
</svg></body></html>
